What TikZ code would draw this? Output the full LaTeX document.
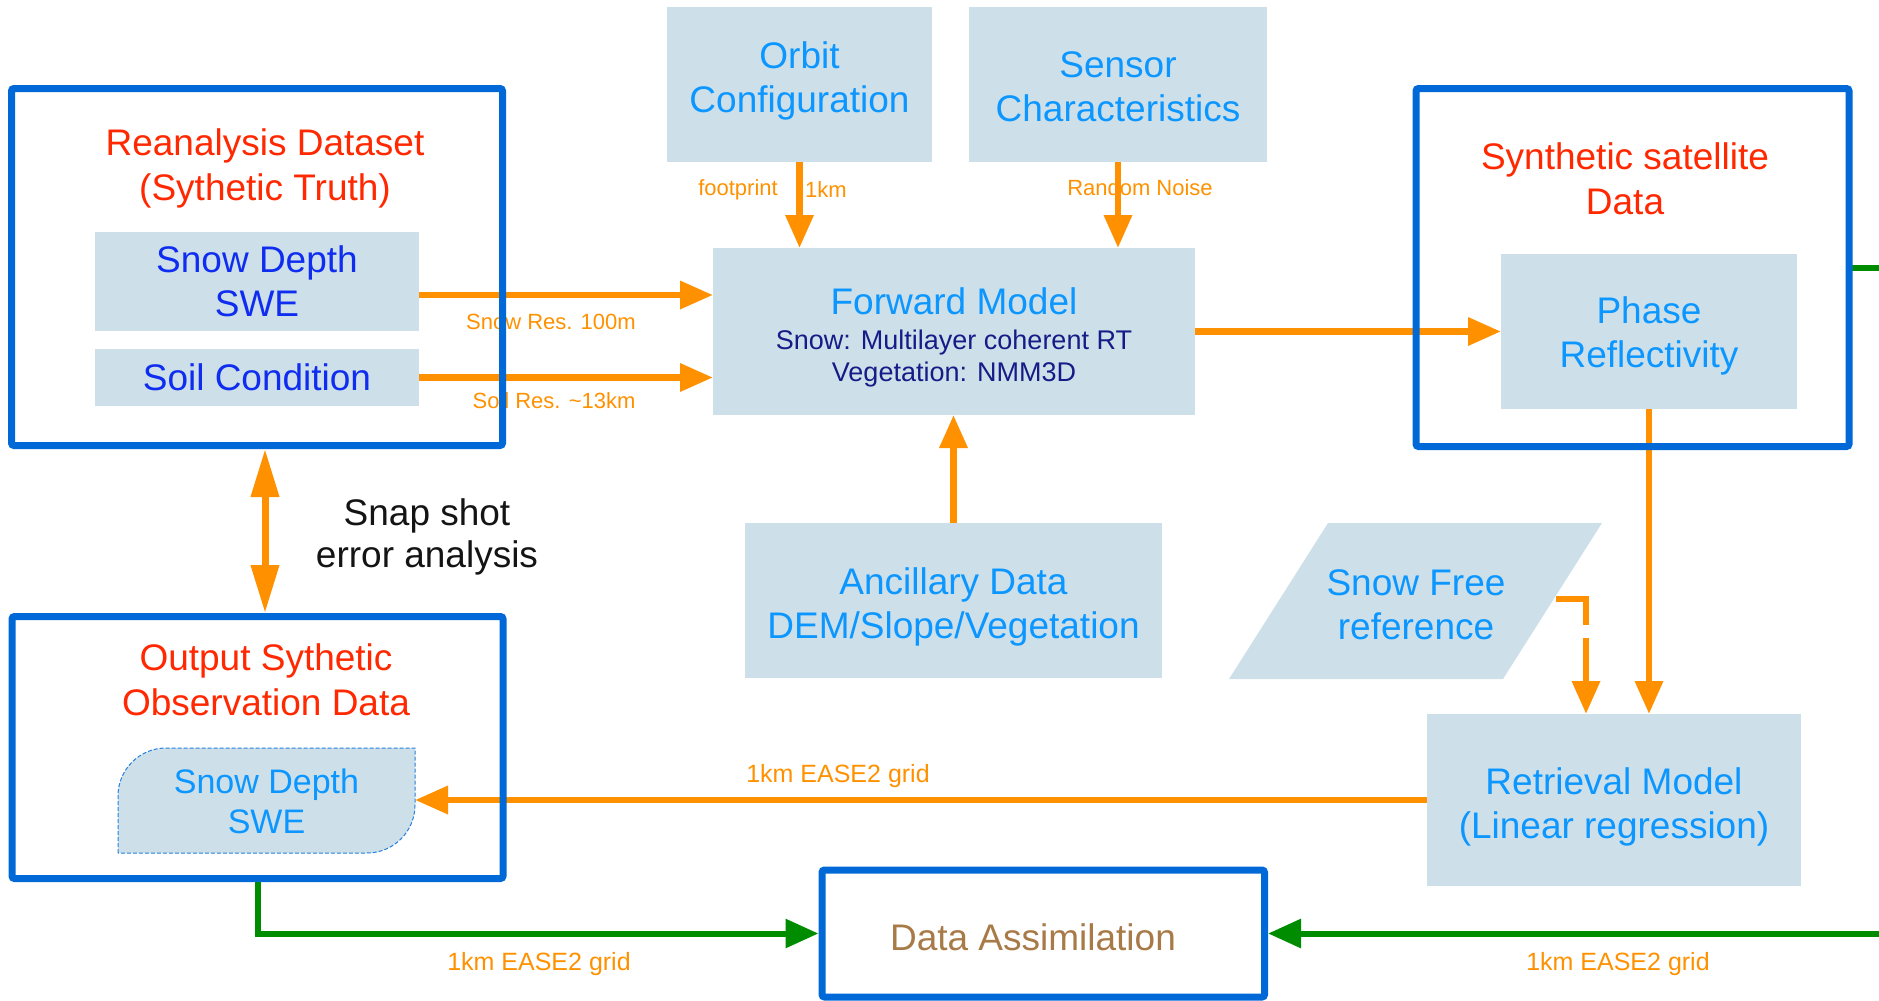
\documentclass[tikz,border=0pt]{standalone}
\usepackage{fontspec}
\setmainfont{Liberation Sans}
\usetikzlibrary{arrows.meta,calc}

\definecolor{boxfill}{RGB}{205,224,233}
\definecolor{lblue}{RGB}{12,150,255}
\definecolor{dblue}{RGB}{15,45,240}
\definecolor{navy}{RGB}{22,28,135}
\definecolor{titlered}{RGB}{255,40,0}
\definecolor{frameblue}{RGB}{0,105,215}
\definecolor{flow}{RGB}{255,145,0}
\definecolor{assim}{RGB}{0,140,0}
\definecolor{assimtext}{RGB}{168,122,72}

\newcommand{\diagboxfont}{\fontsize{37}{44}\selectfont}
\newcommand{\diagheadfont}{\fontsize{37}{45}\selectfont}
\newcommand{\diagnotefont}{\fontsize{27}{32}\selectfont}
\newcommand{\diagtagfont}{\fontsize{22}{26}\selectfont}
\newcommand{\diaggridfont}{\fontsize{25}{30}\selectfont}

\tikzset{
  panel/.style={shape=rectangle, inner sep=0pt, outer sep=0pt},
  panelframe/.style={draw=frameblue, line width=7pt, rounded corners=2.5pt},
  fillbox/.style={shape=rectangle, fill=boxfill, inner sep=0pt, outer sep=0pt,
    align=center, text=lblue, font=\diagboxfont},
  boxtext/.style={align=center, text=lblue, font=\diagboxfont, inner sep=0pt},
  headtext/.style={align=center, text=titlered, font=\diagheadfont, inner sep=0pt},
  flowlabel/.style={text=flow, font=\diagtagfont, inner sep=0pt},
  gridlabel/.style={text=flow, font=\diaggridfont, inner sep=0pt},
  flowarrow/.style={draw=flow, line width=6.5pt, -{Triangle[length=33pt,width=27pt]}},
  assimarrow/.style={draw=assim, line width=6pt, -{Triangle[length=33pt,width=28pt]}},
}

\begin{document}
\begin{tikzpicture}[x=1pt,y=-1pt]
\useasboundingbox (0,0) rectangle (1879,1001);
\clip (0,0) rectangle (1879,1001);

% ---- framed panels (outlines are drawn last) ----
\node[panel, minimum width=491pt, minimum height=357pt] (reana) at (257,267) {};
\node[panel, minimum width=433pt, minimum height=358pt] (synth) at (1632.5,267.5) {};
\node[panel, minimum width=491pt, minimum height=262pt] (output) at (257.5,747.5) {};
\node[panel, minimum width=442.5pt, minimum height=127pt] (da) at (1043.25,933.5) {};

% ---- panel headings ----
\node[headtext] (reanatitle) at (265,168) {Reanalysis Dataset\\(Sythetic Truth)};
\node[headtext] (synthtitle) at (1625,179) {Synthetic satellite\\Data};
\node[headtext] (outtitle) at (266,680) {Output Sythetic\\Observation Data};

% ---- filled boxes ----
\node[fillbox, text=dblue, minimum width=324pt, minimum height=99pt] (snowdepth) at (257,281.5) {Snow Depth\\SWE};
\node[fillbox, text=dblue, minimum width=324pt, minimum height=57pt] (soil) at (257,377.5) {Soil Condition};
\node[fillbox, minimum width=265pt, minimum height=155pt] (orbit) at (799.5,84.5) {};
\node[boxtext] (orbittext) at (799.5,81) {Orbit\\Configuration};
\node[fillbox, minimum width=298pt, minimum height=155pt] (sensor) at (1118,84.5) {};
\node[boxtext] (sensortext) at (1118,87) {Sensor\\Characteristics};
\node[fillbox, minimum width=482pt, minimum height=167pt] (fwd) at (954,331.5) {};
\node[boxtext] (fwdtitle) at (954,301) {Forward Model};
\node[text=navy, font=\diagnotefont, align=center, inner sep=0pt] (fwdnote) at (954,359) {Snow: Multilayer coherent RT\\Vegetation: NMM3D};
\node[fillbox, minimum width=296pt, minimum height=155pt] (phase) at (1649,331.5) {};
\node[boxtext] (phasetext) at (1649,336) {Phase\\Reflectivity};
\node[fillbox, minimum width=417pt, minimum height=155pt] (anc) at (953.5,600) {};
\node[boxtext] (anctext) at (953.5,607) {Ancillary Data\\DEM/Slope/Vegetation};
\node[fillbox, minimum width=374pt, minimum height=172pt] (retr) at (1614,800) {};
\node[boxtext] (retrtext) at (1614,807) {Retrieval Model\\(Linear regression)};

% snow-free reference: parallelogram
\fill[boxfill] (1328,523) -- (1602,523) -- (1503,679) -- (1229,679) -- cycle;
\node[boxtext] (snowfree) at (1416,604.5) {Snow Free\\reference};

% output snow depth: two opposite corners rounded, dashed outline
\path[fill=boxfill, draw=frameblue!85, line width=1pt, dash pattern=on 4pt off 2pt]
  (118,853) -- (118,796) .. controls (118,769.5) and (139.5,748) .. (166,748)
  -- (415,748) -- (415,805) .. controls (415,831.5) and (393.5,853) .. (367,853) -- cycle;
\node[panel, minimum width=297pt, minimum height=105pt, text=lblue,
  font=\fontsize{34}{40}\selectfont, align=center] (outsnow) at (266.5,801) {Snow Depth\\SWE};

\node[text=assimtext, font=\diagboxfont, inner sep=0pt] (datext) at (1033,937) {Data Assimilation};

% ---- connector labels ----
\node[flowlabel] (lsnow) at (551,322) {Snow Res. 100m};
\node[flowlabel] (lsoil) at (554,401) {Soil Res. \textasciitilde13km};
\node[flowlabel] (lfoot) at (738,190) {footprint};
\node[flowlabel] (lkm) at (826,190) {1km};
\node[flowlabel] (lnoise) at (1140,187.5) {Random Noise};
\node[gridlabel] (lgridA) at (838,776.5) {1km EASE2 grid};
\node[gridlabel] (lgridB) at (539,964.5) {1km EASE2 grid};
\node[gridlabel] (lgridC) at (1618,964.5) {1km EASE2 grid};
\node[align=center, text=black!92, font=\fontsize{37}{42}\selectfont, inner sep=0pt] (snap) at (427,537) {Snap shot\\error analysis};

% ---- orange flow connectors ----
\coordinate (snowrow) at ([yshift=-13.5pt]snowdepth.east);
\draw[flowarrow] (snowrow) -- (snowrow -| fwd.west);
\draw[flowarrow] (soil.east) -- (soil.east -| fwd.west);
\draw[flowarrow] (orbit.south) -- (orbit.south |- fwd.north);
\draw[flowarrow] (sensor.south) -- (sensor.south |- fwd.north);
\draw[flowarrow] (anc.north) -- (anc.north |- fwd.south);
\draw[flowarrow] (fwd.east) -- (fwd.east -| phase.west);
\draw[flowarrow] (phase.south) -- (phase.south |- retr.north);
\coordinate (sfout) at (1556,599);
\coordinate (sfbend) at (1586,599);
\draw[flowarrow, dash pattern=on 56pt off 13pt] (sfout) -- (sfbend) -- (sfbend |- retr.north);
\draw[flowarrow] (retr.west) -- (retr.west -| outsnow.east);
\coordinate (snaptop) at ([xshift=8pt]reana.south);
\coordinate (snapbot) at ([xshift=7.5pt]output.north);
\draw[draw=flow, line width=7pt, shorten <=3.5pt, shorten >=3.5pt,
  {Triangle[length=48pt,width=27pt]}-{Triangle[length=48pt,width=27pt]}] (snaptop) -- (snapbot);

% ---- green assimilation connectors ----
\coordinate (rim) at (1900,0);
\draw[assimarrow, shorten >=3.5pt] (output.south) |- (da.west);
\draw[assimarrow, shorten >=3.5pt] (synth.east) -- (synth.east -| rim) |- (da.east);

% ---- panel outlines on top ----
\draw[panelframe] (reana.south west) rectangle (reana.north east);
\draw[panelframe] (synth.south west) rectangle (synth.north east);
\draw[panelframe] (output.south west) rectangle (output.north east);
\draw[panelframe] (da.south west) rectangle (da.north east);
\end{tikzpicture}
\end{document}
